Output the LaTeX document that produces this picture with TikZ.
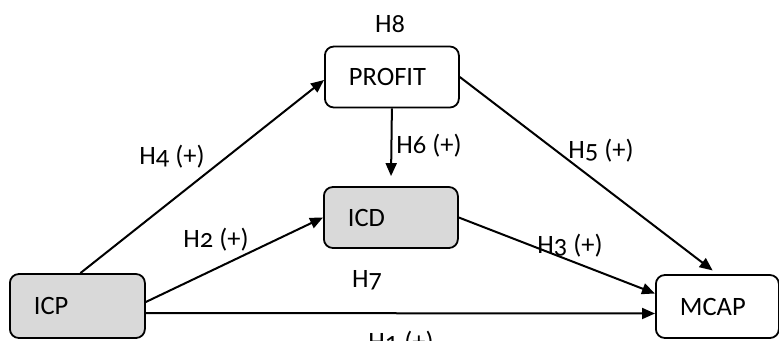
\documentclass[tikz,border=0pt]{standalone}
\usepackage{fontspec}
\setmainfont{Carlito}[Numbers=OldStyle]
\usetikzlibrary{arrows.meta}
\begin{document}
\begin{tikzpicture}[x=1pt,y=-1pt,
  box/.style={draw=black,line width=1.8pt,rounded corners=9pt,minimum height=61pt,
    inner xsep=24pt,align=left,anchor=west,font=\fontsize{26.5}{30}\selectfont},
  shaded/.style={box,fill=boxgray},
  lbl/.style={inner sep=0pt,font=\fontsize{26.5}{30}\selectfont},
  conn/.style={line width=2pt,-{Triangle[length=13pt,width=11pt]}}]
\definecolor{boxgray}{HTML}{D9D9D9}
\useasboundingbox (0,0) rectangle (779,340);
\node[shaded,text width=87pt,minimum height=64pt] (icp) at (9,306) {ICP};
\node[box,text width=86pt] (profit) at (324,77) {PROFIT};
\node[shaded,text width=86pt] (icd) at (323,217.5) {ICD};
\node[box,text width=75pt,minimum height=63pt] (mcap) at (655,306.5) {MCAP};
\node[lbl] (h8) at (390,24) {H8};
\node[lbl] (h4) at (172,157) {H4 (+)};
\node[lbl] (h6) at (429,146) {H6 (+)};
\node[lbl] (h5) at (601,151) {H5 (+)};
\node[lbl] (h2) at (216,240) {H2 (+)};
\node[lbl] (h3) at (570,246) {H3 (+)};
\node[lbl] (h7) at (367,280) {H7};
\node[lbl] (h1) at (401,343) {H1 (+)};
\draw[conn] ([xshift=3pt]icp.north) -- ([yshift=-3pt]profit.west);
\draw[conn,shorten >=10pt] (profit.south) -- (icd.north);
\draw[conn,shorten >=6pt] (profit.east) -- (mcap.north);
\draw[conn] ([yshift=4pt]icp.east) -- (icd.west);
\draw[conn] (icd.east) -- ([yshift=13pt]mcap.west);
\draw[conn] ([yshift=-7pt]icp.east) -- ([yshift=-7pt]mcap.west);
\end{tikzpicture}
\end{document}
